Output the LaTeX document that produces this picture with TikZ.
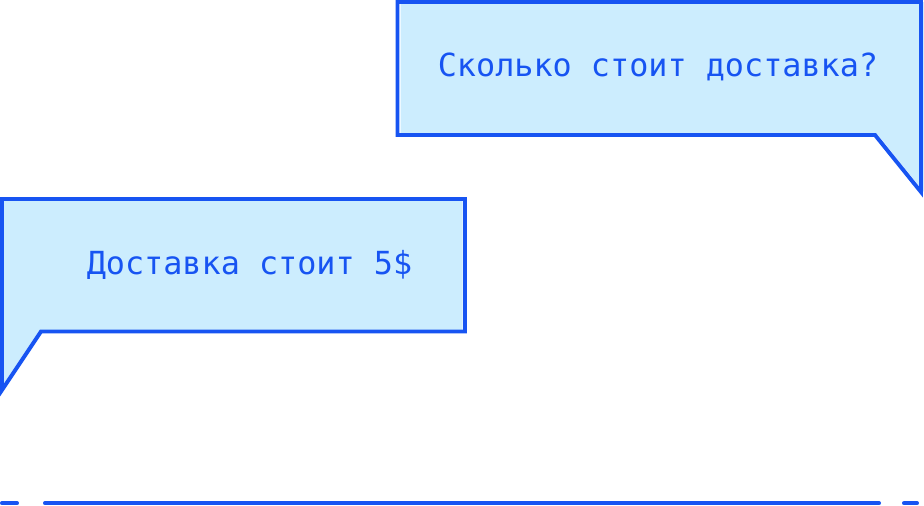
\documentclass[tikz,border=0pt]{standalone}
\usepackage{fontspec}
\setmonofont{DejaVu Sans Mono}
\definecolor{chatblue}{HTML}{1754F2}
\definecolor{chatfill}{HTML}{CCEDFE}
\begin{document}
\begin{tikzpicture}[x=1pt,y=-1pt,
  bubble/.style={draw=chatblue,line width=3.9pt,line join=miter},
  bubblefill/.style={fill=chatfill},
  msg/.style={inner sep=0pt,anchor=base,text=chatblue,font=\ttfamily\fontsize{31.8pt}{36pt}\selectfont},
  rule/.style={draw=chatblue,line width=4pt,line cap=round}]
\useasboundingbox (0,0) rectangle (924,506);

% question bubble, tail on the lower right
\fill[bubblefill,xshift=3pt] (397.5,2) -- (921,2) -- (921,192) -- (875,135) -- (397.5,135) -- cycle;
\draw[bubble] (397.5,2) -- (921,2) -- (921,192) -- (875,135) -- (397.5,135) -- cycle;
\node[msg] (question) at (658,76.8) {Сколько стоит доставка?};

% answer bubble, tail on the lower left
\fill[bubblefill,xshift=-2.5pt] (2,199) -- (465,199) -- (465,331.5) -- (41,331.5) -- (2,390) -- cycle;
\draw[bubble] (2,199) -- (465,199) -- (465,331.5) -- (41,331.5) -- (2,390) -- cycle;
\node[msg] (answer) at (249.5,274.5) {Доставка стоит 5\$};

% dashed rule along the bottom
\draw[rule] (2,503.3) -- (17,503.3);
\draw[rule] (45,503.3) -- (879,503.3);
\draw[rule] (904,503.3) -- (917,503.3);
\end{tikzpicture}
\end{document}
